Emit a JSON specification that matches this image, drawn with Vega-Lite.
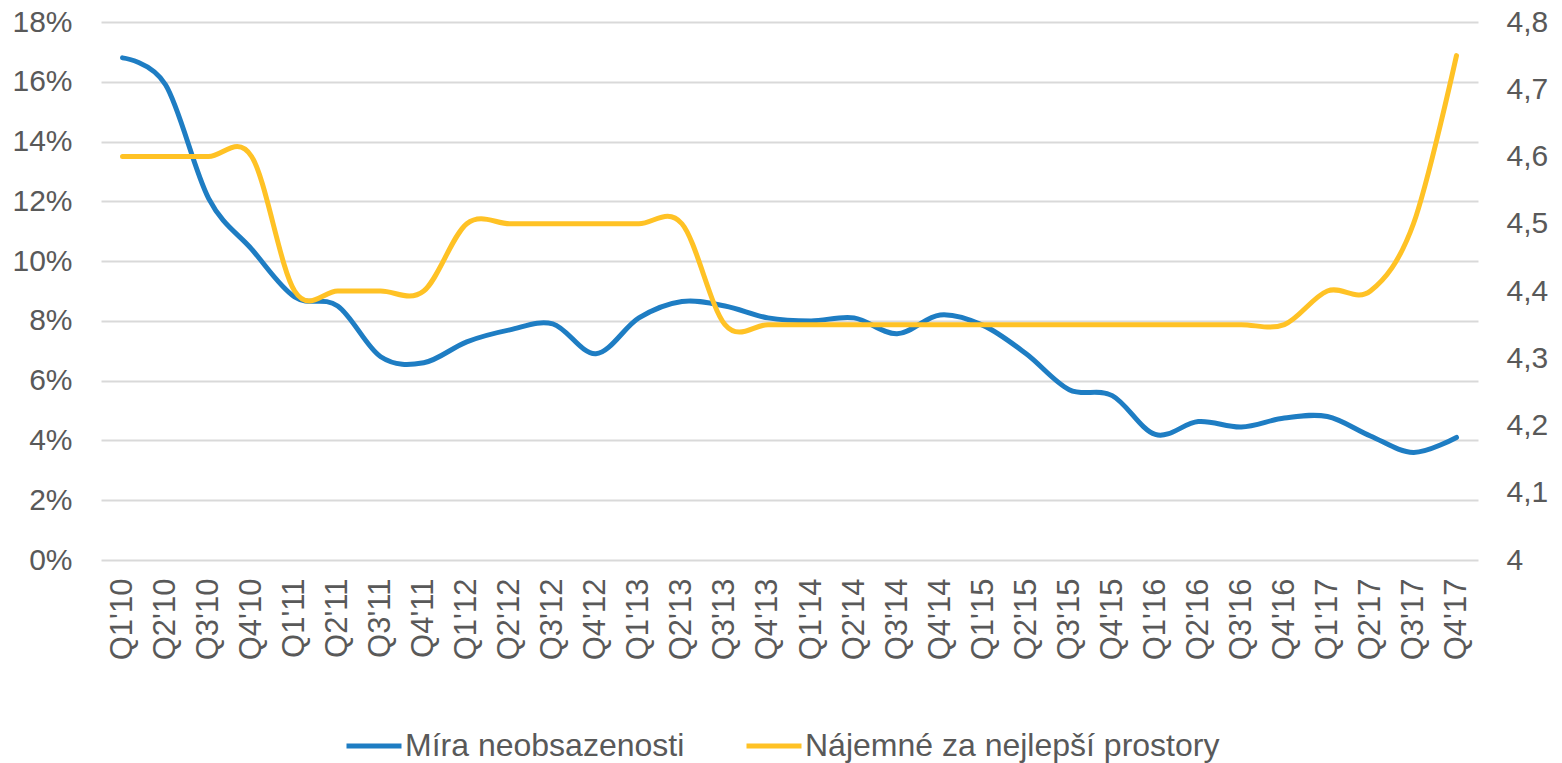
{
  "$schema": "https://vega.github.io/schema/vega-lite/v6.json",
  "width": 1377,
  "height": 538,
  "autosize": {"type": "none"},
  "padding": {"left": 101, "top": 22, "right": 84, "bottom": 203},
  "background": "white",
  "config": {
    "view": {"stroke": null},
    "font": "Liberation Sans",
    "axis": {"labelColor": "#595959", "labelFont": "Liberation Sans", "domain": false, "ticks": false, "titleColor": "#595959"},
    "legend": {"labelFont": "Liberation Sans"}
  },
  "data": {
    "values": [
      {"q": "Q1'10", "s": "Míra neobsazenosti", "v": 0.168},
      {"q": "Q2'10", "s": "Míra neobsazenosti", "v": 0.159},
      {"q": "Q3'10", "s": "Míra neobsazenosti", "v": 0.121},
      {"q": "Q4'10", "s": "Míra neobsazenosti", "v": 0.104},
      {"q": "Q1'11", "s": "Míra neobsazenosti", "v": 0.088},
      {"q": "Q2'11", "s": "Míra neobsazenosti", "v": 0.085},
      {"q": "Q3'11", "s": "Míra neobsazenosti", "v": 0.068},
      {"q": "Q4'11", "s": "Míra neobsazenosti", "v": 0.066},
      {"q": "Q1'12", "s": "Míra neobsazenosti", "v": 0.073},
      {"q": "Q2'12", "s": "Míra neobsazenosti", "v": 0.077},
      {"q": "Q3'12", "s": "Míra neobsazenosti", "v": 0.079},
      {"q": "Q4'12", "s": "Míra neobsazenosti", "v": 0.069},
      {"q": "Q1'13", "s": "Míra neobsazenosti", "v": 0.081},
      {"q": "Q2'13", "s": "Míra neobsazenosti", "v": 0.0865},
      {"q": "Q3'13", "s": "Míra neobsazenosti", "v": 0.085},
      {"q": "Q4'13", "s": "Míra neobsazenosti", "v": 0.081},
      {"q": "Q1'14", "s": "Míra neobsazenosti", "v": 0.080},
      {"q": "Q2'14", "s": "Míra neobsazenosti", "v": 0.081},
      {"q": "Q3'14", "s": "Míra neobsazenosti", "v": 0.0757},
      {"q": "Q4'14", "s": "Míra neobsazenosti", "v": 0.082},
      {"q": "Q1'15", "s": "Míra neobsazenosti", "v": 0.0785},
      {"q": "Q2'15", "s": "Míra neobsazenosti", "v": 0.069},
      {"q": "Q3'15", "s": "Míra neobsazenosti", "v": 0.057},
      {"q": "Q4'15", "s": "Míra neobsazenosti", "v": 0.055},
      {"q": "Q1'16", "s": "Míra neobsazenosti", "v": 0.042},
      {"q": "Q2'16", "s": "Míra neobsazenosti", "v": 0.0463},
      {"q": "Q3'16", "s": "Míra neobsazenosti", "v": 0.0445},
      {"q": "Q4'16", "s": "Míra neobsazenosti", "v": 0.0475},
      {"q": "Q1'17", "s": "Míra neobsazenosti", "v": 0.048},
      {"q": "Q2'17", "s": "Míra neobsazenosti", "v": 0.0415},
      {"q": "Q3'17", "s": "Míra neobsazenosti", "v": 0.036},
      {"q": "Q4'17", "s": "Míra neobsazenosti", "v": 0.041},
      {"q": "Q1'10", "s": "Nájemné za nejlepší prostory", "v": 4.6},
      {"q": "Q2'10", "s": "Nájemné za nejlepší prostory", "v": 4.6},
      {"q": "Q3'10", "s": "Nájemné za nejlepší prostory", "v": 4.6},
      {"q": "Q4'10", "s": "Nájemné za nejlepší prostory", "v": 4.6},
      {"q": "Q1'11", "s": "Nájemné za nejlepší prostory", "v": 4.4},
      {"q": "Q2'11", "s": "Nájemné za nejlepší prostory", "v": 4.4},
      {"q": "Q3'11", "s": "Nájemné za nejlepší prostory", "v": 4.4},
      {"q": "Q4'11", "s": "Nájemné za nejlepší prostory", "v": 4.4},
      {"q": "Q1'12", "s": "Nájemné za nejlepší prostory", "v": 4.5},
      {"q": "Q2'12", "s": "Nájemné za nejlepší prostory", "v": 4.5},
      {"q": "Q3'12", "s": "Nájemné za nejlepší prostory", "v": 4.5},
      {"q": "Q4'12", "s": "Nájemné za nejlepší prostory", "v": 4.5},
      {"q": "Q1'13", "s": "Nájemné za nejlepší prostory", "v": 4.5},
      {"q": "Q2'13", "s": "Nájemné za nejlepší prostory", "v": 4.5},
      {"q": "Q3'13", "s": "Nájemné za nejlepší prostory", "v": 4.35},
      {"q": "Q4'13", "s": "Nájemné za nejlepší prostory", "v": 4.35},
      {"q": "Q1'14", "s": "Nájemné za nejlepší prostory", "v": 4.35},
      {"q": "Q2'14", "s": "Nájemné za nejlepší prostory", "v": 4.35},
      {"q": "Q3'14", "s": "Nájemné za nejlepší prostory", "v": 4.35},
      {"q": "Q4'14", "s": "Nájemné za nejlepší prostory", "v": 4.35},
      {"q": "Q1'15", "s": "Nájemné za nejlepší prostory", "v": 4.35},
      {"q": "Q2'15", "s": "Nájemné za nejlepší prostory", "v": 4.35},
      {"q": "Q3'15", "s": "Nájemné za nejlepší prostory", "v": 4.35},
      {"q": "Q4'15", "s": "Nájemné za nejlepší prostory", "v": 4.35},
      {"q": "Q1'16", "s": "Nájemné za nejlepší prostory", "v": 4.35},
      {"q": "Q2'16", "s": "Nájemné za nejlepší prostory", "v": 4.35},
      {"q": "Q3'16", "s": "Nájemné za nejlepší prostory", "v": 4.35},
      {"q": "Q4'16", "s": "Nájemné za nejlepší prostory", "v": 4.35},
      {"q": "Q1'17", "s": "Nájemné za nejlepší prostory", "v": 4.4},
      {"q": "Q2'17", "s": "Nájemné za nejlepší prostory", "v": 4.4},
      {"q": "Q3'17", "s": "Nájemné za nejlepší prostory", "v": 4.5},
      {"q": "Q4'17", "s": "Nájemné za nejlepší prostory", "v": 4.75}
    ]
  },
  "encoding": {
    "x": {
      "field": "q",
      "type": "ordinal",
      "sort": null,
      "scale": {"type": "point", "padding": 0.5},
      "axis": {"title": null, "labelAngle": -90, "labelFontSize": 31, "labelPadding": 18, "grid": false}
    },
    "color": {
      "field": "s",
      "type": "nominal",
      "scale": {"domain": ["Míra neobsazenosti", "Nájemné za nejlepší prostory"], "range": ["#1E7DC3", "#FFC225"]},
      "legend": {
        "title": null,
        "orient": "none",
        "legendX": 243,
        "legendY": 694,
        "direction": "horizontal",
        "symbolType": "stroke",
        "symbolSize": 3025,
        "symbolStrokeWidth": 5,
        "labelFontSize": 32,
        "labelColor": "#595959",
        "labelOffset": 1,
        "labelLimit": 600,
        "columnPadding": 51
      }
    }
  },
  "layer": [
    {
      "transform": [{"filter": "datum.s === 'Míra neobsazenosti'"}],
      "mark": {"type": "line", "interpolate": "cardinal", "strokeWidth": 5, "strokeCap": "round"},
      "encoding": {
        "y": {
          "field": "v",
          "type": "quantitative",
          "scale": {"domain": [0, 0.18], "nice": false, "zero": false},
          "axis": {"title": null, "orient": "left", "values": [0, 0.02, 0.04, 0.06, 0.08, 0.1, 0.12, 0.14, 0.16, 0.18], "format": ".0%", "labelFontSize": 30, "labelPadding": 29, "grid": true, "gridColor": "#D9D9D9", "gridWidth": 2}
        }
      }
    },
    {
      "transform": [{"filter": "datum.s === 'Nájemné za nejlepší prostory'"}],
      "mark": {"type": "line", "interpolate": "cardinal", "strokeWidth": 5, "strokeCap": "round"},
      "encoding": {
        "y": {
          "field": "v",
          "type": "quantitative",
          "scale": {"domain": [4, 4.8], "nice": false, "zero": false},
          "axis": {"title": null, "orient": "right", "values": [4, 4.1, 4.2, 4.3, 4.4, 4.5, 4.6, 4.7, 4.8], "labelExpr": "replace(format(datum.value, '.1~f'), '.', ',')", "labelFontSize": 30, "labelPadding": 28, "grid": false}
        }
      }
    }
  ],
  "resolve": {"scale": {"y": "independent"}}
}
